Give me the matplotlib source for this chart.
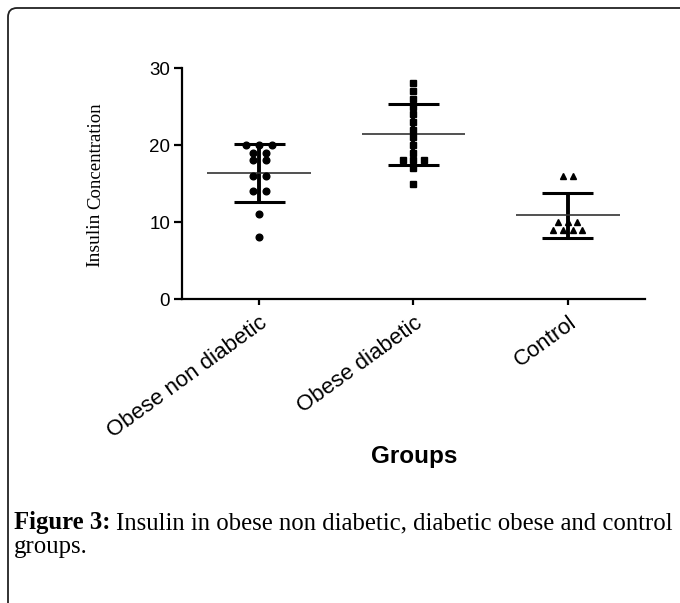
import numpy as np
import matplotlib
matplotlib.use("Agg")
import matplotlib.pyplot as plt
from matplotlib.patches import FancyBboxPatch
from matplotlib.transforms import IdentityTransform

# ---------------- data ----------------
categories = ["Obese non diabetic", "Obese diabetic", "Control"]
obese_non_diabetic = [20, 20, 20, 19, 19, 18, 18, 16, 16, 14, 14, 11, 8]
obese_diabetic = [28, 27, 26, 25, 24, 23, 22, 21, 20, 19, 18, 18, 18, 17, 15]
control = [16, 16, 10, 10, 10, 9, 9, 9, 9]
y_ticks = [0, 10, 20, 30]
x_label = "Groups"
y_label_big = "Insulin"
y_label_small = "Concentration"
caption_bold = "Figure 3:"
caption_rest = "Insulin in obese non diabetic, diabetic obese and control"
caption_line2 = "groups."

groups = [obese_non_diabetic, obese_diabetic, control]
markers = ["o", "s", "^"]
marker_sizes = [4.8, 5.0, 5.0]
spacings = [0.085, 0.065, 0.062]

plt.rcParams["font.family"] = ["Liberation Sans", "DejaVu Sans"]

W, H = 680, 603
fig = plt.figure(figsize=(W / 100, H / 100), dpi=100)
ax = fig.add_axes([182 / W, 1 - 299 / H, (645 - 182) / W, (299 - 68) / H])

for i, vals in enumerate(groups):
    vals = np.asarray(vals, dtype=float)
    m = vals.mean()
    s = vals.std(ddof=1)
    # error bar (SD)
    ax.vlines(i, m - s, m + s, color="black", lw=2.8, zorder=2)
    ax.hlines([m - s, m + s], i - 0.165, i + 0.165, color="black", lw=2.2, zorder=2)
    ax.hlines(m, i - 0.335, i + 0.335, color="#333333", lw=1.2, zorder=2)
    # scatter with horizontal spread for duplicates
    xs = []
    for k, v in enumerate(vals):
        same = np.where(vals == v)[0]
        n = len(same)
        idx = list(same).index(k)
        xs.append(i + (idx - (n - 1) / 2) * spacings[i])
    ax.plot(xs, vals, linestyle="none", marker=markers[i], ms=marker_sizes[i],
            color="black", zorder=3, clip_on=False)

ax.set_xlim(-0.5, 2.5)
ax.set_ylim(0, 30)
ax.set_yticks(y_ticks)
ax.set_yticklabels([str(t) for t in y_ticks], fontsize=13.5)
ax.set_xticks(range(len(categories)))
ax.set_xticklabels(categories, rotation=36, ha="right", rotation_mode="anchor",
                   fontsize=16)
for sp in ["top", "right"]:
    ax.spines[sp].set_visible(False)
for sp in ["left", "bottom"]:
    ax.spines[sp].set_linewidth(1.6)
ax.tick_params(axis="y", length=5.5, width=1.6, pad=3)
ax.tick_params(axis="x", length=4.5, width=1.6, pad=5)

ident = IdentityTransform()

# x label
fig.text(414, H - 457, x_label, transform=ident, ha="center", va="center",
         fontsize=17.5, fontweight="bold")

# y label (two sizes)
t1 = fig.text(95, H - 267, y_label_big, transform=ident, rotation=90,
              ha="center", va="bottom", fontsize=14,
              family=["Liberation Serif", "DejaVu Serif"])
fig.canvas.draw()
r = fig.canvas.get_renderer()
bb = t1.get_window_extent(r)
fig.text(96, bb.y1 + 4, y_label_small, transform=ident, rotation=90,
         ha="center", va="bottom", fontsize=13.5,
         family=["Liberation Serif", "DejaVu Serif"])

# caption
cap_fs = 17.8
cb = fig.text(14, H - 529, caption_bold, transform=ident, ha="left",
              va="baseline", fontsize=cap_fs, fontweight="bold",
              family=["Liberation Serif", "DejaVu Serif"])
fig.canvas.draw()
bb2 = cb.get_window_extent(r)
fig.text(bb2.x1 + 6, H - 529, caption_rest, transform=ident, ha="left",
         va="baseline", fontsize=cap_fs,
         family=["Liberation Serif", "DejaVu Serif"])
fig.text(14, H - 553, caption_line2, transform=ident, ha="left",
         va="baseline", fontsize=cap_fs,
         family=["Liberation Serif", "DejaVu Serif"])

# outer frame (rounded, cut off at right/bottom)
frame = FancyBboxPatch((8, -40), 720, H - 8 + 40, transform=ident,
                       boxstyle="round,pad=0,rounding_size=9",
                       fill=False, edgecolor="#222222", lw=1.3)
fig.add_artist(frame)

fig.savefig("out.png", dpi=100)
